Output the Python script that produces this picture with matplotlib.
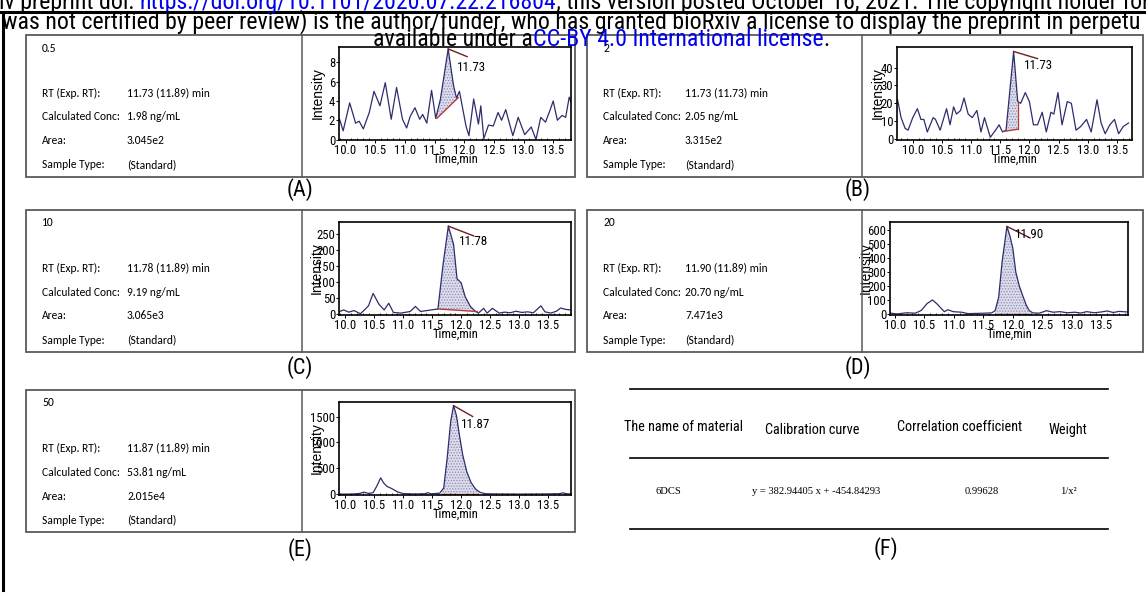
import numpy as np
import matplotlib
matplotlib.use('Agg')
import matplotlib.pyplot as plt
from matplotlib import font_manager as fm
from matplotlib.lines import Line2D
from matplotlib.patches import Rectangle
from matplotlib.ticker import FixedLocator, MultipleLocator, FormatStrFormatter

W, H = 1146, 603

# ---------------- data ----------------
sample_labels = ['0.5', '2', '10', '20', '50']
field_names = ['RT (Exp. RT):', 'Calculated Conc:', 'Area:', 'Sample Type:']
rt_values = ['11.73 (11.89) min', '11.73 (11.73) min', '11.78 (11.89) min',
             '11.90 (11.89) min', '11.87 (11.89) min']
conc_values = ['1.98 ng/mL', '2.05 ng/mL', '9.19 ng/mL', '20.70 ng/mL', '53.81 ng/mL']
area_values = ['3.045e2', '3.315e2', '3.065e3', '7.471e3', '2.015e4']
type_values = ['(Standard)'] * 5
peak_labels = ['11.73', '11.73', '11.78', '11.90', '11.87']
panel_letters = ['(A)', '(B)', '(C)', '(D)', '(E)', '(F)']
x_ticks = [10.0, 10.5, 11.0, 11.5, 12.0, 12.5, 13.0, 13.5]

a_time = [9.90, 9.96, 10.07, 10.17, 10.23, 10.30, 10.40, 10.48, 10.58, 10.67, 10.77, 10.86,
          10.96, 11.03, 11.09, 11.17, 11.25, 11.30, 11.37, 11.45, 11.52, 11.60, 11.73, 11.82,
          11.87, 11.92, 12.03, 12.08, 12.16, 12.24, 12.28, 12.33, 12.41, 12.49, 12.57, 12.63,
          12.70, 12.77, 12.82, 12.91, 13.02, 13.13, 13.21, 13.29, 13.37, 13.45, 13.50, 13.57,
          13.65, 13.71, 13.77, 13.80]
a_int = [2.1, 0.9, 3.8, 1.7, 1.9, 1.1, 2.8, 5.0, 3.5, 5.9, 2.1, 5.4,
         2.1, 1.2, 2.4, 3.3, 2.1, 2.6, 1.7, 5.1, 2.2, 4.2, 9.4, 5.6,
         4.3, 5.0, 1.4, 0.4, 4.2, 1.6, 3.5, 0.1, 1.5, 1.4, 2.8, 2.0,
         3.1, 1.5, 0.4, 2.3, 0.5, 1.3, 0.0, 2.3, 1.8, 3.1, 4.0, 2.0,
         2.5, 2.3, 4.4, 3.9]
a_base_t = [11.54, 11.90]
a_base_y = [2.2, 4.35]
a_yticks = [0, 2, 4, 6, 8]

b_time = [9.74, 9.80, 9.87, 9.92, 10.00, 10.08, 10.14, 10.19, 10.25, 10.35, 10.39, 10.47,
          10.58, 10.64, 10.70, 10.75, 10.82, 10.88, 10.95, 11.02, 11.10, 11.17, 11.23, 11.33,
          11.42, 11.48, 11.54, 11.60, 11.73, 11.80, 11.85, 11.93, 12.00, 12.07, 12.14, 12.22,
          12.29, 12.37, 12.42, 12.49, 12.56, 12.65, 12.72, 12.80, 12.88, 12.98, 13.06, 13.16,
          13.23, 13.30, 13.38, 13.46, 13.53, 13.61, 13.70]
b_int = [22, 12, 6, 5, 12, 17, 11, 11, 4, 12, 11, 5,
         17, 8, 18, 14, 16, 23, 14, 12, 16, 4, 12, 1,
         5, 8, 4, 5, 49, 21, 20, 26, 21, 8, 8, 15,
         4, 15, 14, 26, 8, 21, 20, 5, 7, 11, 4, 22,
         9, 3, 8, 11, 3, 7, 9]
b_base_t = [11.56, 11.80]
b_base_y = [4.3, 5.5]
b_yticks = [0, 10, 20, 30, 40]

c_time = [9.90, 9.97, 10.06, 10.15, 10.26, 10.33, 10.40, 10.48, 10.58, 10.67, 10.75, 10.83,
          10.96, 11.12, 11.21, 11.30, 11.48, 11.60, 11.69, 11.78, 11.87, 11.93, 12.00, 12.07,
          12.16, 12.25, 12.30, 12.39, 12.45, 12.54, 12.66, 12.75, 12.85, 12.95, 13.05, 13.15,
          13.25, 13.38, 13.45, 13.55, 13.65, 13.72, 13.80, 13.88]
c_int = [7, 12, 5, 10, 0, 12, 25, 64, 30, 12, 33, 4,
         2, 7, 23, 7, 12, 15, 157, 276, 219, 110, 98, 54,
         23, 7, 2, 17, 2, 17, 2, 5, 3, 8, 4, 6,
         3, 25, 6, 2, 8, 18, 14, 12]
c_base_t = [11.60, 12.28]
c_base_y = [15, 7]
c_yticks = [0, 50, 100, 150, 200, 250]

d_time = [9.92, 9.97, 10.05, 10.20, 10.35, 10.45, 10.55, 10.64, 10.72, 10.77, 10.84, 10.90,
          10.99, 11.13, 11.24, 11.45, 11.64, 11.70, 11.76, 11.82, 11.90, 11.95, 12.00, 12.05,
          12.11, 12.17, 12.23, 12.28, 12.34, 12.45, 12.57, 12.68, 12.80, 12.92, 13.05, 13.15,
          13.25, 13.38, 13.50, 13.60, 13.70, 13.80, 13.93]
d_int = [7, 3, 0, 8, 5, 25, 75, 100, 70, 47, 16, 30,
         16, 12, 2, 4, 7, 23, 120, 380, 628, 560, 470, 300,
         200, 128, 60, 23, 7, 5, 23, 12, 16, 8, 12, 6,
         16, 8, 14, 21, 10, 18, 14]
d_base_t = [11.70, 12.30]
d_base_y = [2, 2]
d_yticks = [0, 100, 200, 300, 400, 500, 600]

e_time = [9.90, 10.10, 10.25, 10.32, 10.40, 10.48, 10.54, 10.61, 10.66, 10.72, 10.80, 10.90,
          11.00, 11.20, 11.38, 11.42, 11.48, 11.63, 11.70, 11.76, 11.82, 11.87, 11.92, 11.97,
          12.03, 12.10, 12.17, 12.25, 12.33, 12.42, 12.60, 13.00, 13.40, 13.70, 13.76, 13.82,
          13.90]
e_int = [2, 3, 15, 40, 15, 30, 150, 315, 220, 150, 110, 45,
         12, 5, 10, 30, 8, 20, 120, 700, 1400, 1710, 1520, 1150,
         750, 430, 230, 100, 35, 10, 5, 3, 5, 10, 25, 10,
         5]
e_base_t = [11.66, 12.30]
e_base_y = [10, 10]
e_yticks = [0, 500, 1000, 1500]

table_headers = ['The name of material', 'Calibration curve', 'Correlation coefficient', 'Weight']
table_row = ['6DCS', 'y = 382.94405 x + -454.84293', '0.99628', '1/x\u00b2']

header_line1 = [('iv preprint doi: ', 'black'),
                ('https://doi.org/10.1101/2020.07.22.216804', '#0000ee'),
                ('; this version posted October 16, 2021. The copyright holder for', 'black')]
header_line2 = ('was not certified by peer review) is the author/funder, who has granted bioRxiv '
                'a license to display the preprint in perpetu')
header_line3 = [('available under a', 'black'),
                ('CC-BY 4.0 International license', '#0000ee'),
                ('.', 'black')]

# ---------------- fonts ----------------
def find_family(cands, must=None):
    for name in cands:
        try:
            path = fm.findfont(fm.FontProperties(family=name), fallback_to_default=False)
        except Exception:
            continue
        if must is None or any(m.lower() in path.lower() for m in must):
            return name
    return None

SANS = 'Liberation Sans'
SERIF = 'Liberation Serif'
NARROW = find_family(['Liberation Sans Narrow', 'Arial Narrow', 'Nimbus Sans Narrow',
                      'Roboto Condensed', 'Open Sans Condensed'],
                     must=['narrow', 'condensed']) or SANS
BODY = find_family(['Carlito', 'Calibri', 'Lato']) or 'DejaVu Sans'

plt.rcParams['hatch.linewidth'] = 0.6

fig = plt.figure(figsize=(W / 100, H / 100), dpi=100)
fig.patch.set_facecolor('white')
renderer = fig.canvas.get_renderer()


def fx(x):
    return x / W


def fy(y):
    return 1 - y / H


def fline(x0, y0, x1, y1, **kw):
    fig.add_artist(Line2D([fx(x0), fx(x1)], [fy(y0), fy(y1)], transform=fig.transFigure, **kw))


def ftext(x, y, s, **kw):
    return fig.text(fx(x), fy(y), s, **kw)


def text_width(s, size, family):
    t = fig.text(0, 0, s, fontsize=size, family=family)
    w = t.get_window_extent(renderer).width
    t.remove()
    return w


# scale so that a narrow font (if present) keeps the same widths as Liberation Sans sizes
NS = text_width('The name of material 10.0', 10, SANS) / text_width('The name of material 10.0', 10, NARROW)


def chain(x0, y, segs, size, family):
    prefix = ''
    ref = text_width('x', size, family)
    for s, c in segs:
        x = x0 if not prefix else x0 + text_width(prefix + 'x', size, family) - ref
        ftext(x, y, s, color=c, fontsize=size, family=family, ha='left', va='center')
        prefix += s


# ---------------- header (preprint watermark) ----------------
hdr_size = 14 * 1146 / text_width(header_line2, 14, NARROW)
chain(-1, 2, header_line1, hdr_size, NARROW)
ftext(2, 22, header_line2, color='black', fontsize=hdr_size, family=NARROW, ha='left', va='center')
chain(373, 39, header_line3, hdr_size, NARROW)
fline(0, 12, W, 12, color='black', lw=2.2)
fline(3, 12, 3, 590, color='black', lw=2.2)

# ---------------- panels ----------------
box_tops = [35, 35, 210, 210, 390]
box_h = 142
boxes = [(26, 575, 302), (587, 1143, 862), (26, 575, 302), (587, 1143, 862), (26, 575, 302)]
row_off = [13, 58, 82, 106, 130]
axes_lr = [(339, 571), (897, 1132), (339, 571), (890, 1128), (339, 571)]
ax_top_off, ax_bot_off = 12, 105
ylab_x = [318, 878, 317, 866, 317]
xlab_off = 124
letter_pos = [(300, 190), (858, 190), (300, 368), (858, 368), (300, 550)]

times = [a_time, b_time, c_time, d_time, e_time]
ints = [a_int, b_int, c_int, d_int, e_int]
base_ts = [a_base_t, b_base_t, c_base_t, d_base_t, e_base_t]
base_ys = [a_base_y, b_base_y, c_base_y, d_base_y, e_base_y]
yticks_all = [a_yticks, b_yticks, c_yticks, d_yticks, e_yticks]
xlims = [(9.89, 13.80), (9.73, 13.76), (9.89, 13.90), (9.92, 13.95), (9.89, 13.90)]
ylims = [(-0.05, 9.6), (-0.5, 51.5), (-4, 289), (-8, 660), (-15, 1780)]
lbl_line_end = [(12.05, 8.6), (12.14, 45), (12.22, 245), (12.29, 546), (12.20, 1500)]
lbl_text_pos = [(11.88, 7.5), (11.90, 41), (11.96, 229), (12.03, 570), (12.00, 1355)]
right_edge = [False, True, False, False, False]

trace_col = '#2d2d6e'
base_col = '#b53a3a'
lbl_col = '#6e1f1f'
tick_size = 8.0 * NS
body_size = 8.3

for i in range(5):
    x0, x1, xd = boxes[i]
    y0 = box_tops[i]
    y1 = y0 + box_h
    fig.add_artist(Rectangle((fx(x0), fy(y1)), fx(x1) - fx(x0), fy(y0) - fy(y1),
                             transform=fig.transFigure, fill=False, ec='#5a5a5a', lw=1.3))
    fline(xd, y0, xd, y1, color='#5a5a5a', lw=1.1)

    # sample info text
    tx = x0 + 16
    vx = x0 + 101 if i % 2 == 0 else x0 + 98
    rows = [y0 + o for o in row_off]
    ftext(tx, rows[0], sample_labels[i], fontsize=body_size, family=BODY, va='center', ha='left')
    vals = [rt_values[i], conc_values[i], area_values[i], type_values[i]]
    for k in range(4):
        ftext(tx, rows[k + 1], field_names[k], fontsize=body_size, family=BODY, va='center', ha='left')
        ftext(vx, rows[k + 1], vals[k], fontsize=body_size, family=BODY, va='center', ha='left')

    # chromatogram
    l, r = axes_lr[i]
    t_, b = y0 + ax_top_off, y0 + ax_bot_off
    ax = fig.add_axes([fx(l), fy(b), fx(r) - fx(l), fy(t_) - fy(b)])
    t = np.asarray(times[i], float)
    y = np.asarray(ints[i], float)
    bt = base_ts[i]
    by = base_ys[i]
    m = (t > bt[0]) & (t < bt[1])
    tt = np.concatenate([[bt[0]], t[m], [bt[1]]])
    yy = np.interp(tt, t, y)
    bb = np.interp(tt, bt, by)
    ax.fill_between(tt, bb, yy, facecolor='#dcdcec', edgecolor='#8c8cb4', hatch='......', lw=0)
    ax.plot(t, y, color=trace_col, lw=0.9)
    ax.plot(bt, by, color=base_col, lw=1.0)
    if right_edge[i]:
        ax.plot([bt[1], bt[1]], [by[1], np.interp(bt[1], t, y)], color=base_col, lw=0.9)
    pk = float(peak_labels[i])
    pky = float(np.interp(pk, t, y))
    ax.plot([pk, lbl_line_end[i][0]], [pky, lbl_line_end[i][1]], color=lbl_col, lw=1.0)
    ax.text(lbl_text_pos[i][0], lbl_text_pos[i][1], peak_labels[i], fontsize=8.2 * NS,
            family=NARROW, ha='left', va='center')

    ax.set_xlim(*xlims[i])
    ax.set_ylim(*ylims[i])
    ax.xaxis.set_major_locator(FixedLocator(x_ticks))
    ax.xaxis.set_major_formatter(FormatStrFormatter('%.1f'))
    ax.xaxis.set_minor_locator(MultipleLocator(0.1))
    ax.yaxis.set_major_locator(FixedLocator(yticks_all[i]))
    ax.tick_params(axis='both', which='major', direction='out', length=2, width=0.7,
                   labelsize=tick_size, pad=0.8)
    ax.tick_params(axis='x', which='minor', direction='in', length=1.5, width=0.6)
    for lab in ax.get_xticklabels() + ax.get_yticklabels():
        lab.set_family(NARROW)
    for sp in ax.spines.values():
        sp.set_linewidth(1.2)
        sp.set_color('black')
    ax.text((ylab_x[i] - l) / (r - l), 0.5, 'Intensity', rotation=90, transform=ax.transAxes,
            ha='center', va='center', fontsize=10, family=SANS)
    ax.text(0.5, (b - (y0 + xlab_off)) / (b - t_), 'Time,min', transform=ax.transAxes,
            ha='center', va='center', fontsize=tick_size, family=NARROW)

    lx, ly = letter_pos[i]
    ftext(lx, ly, panel_letters[i], fontsize=14 * NS, family=NARROW, ha='center', va='center')

# ---------------- panel F table ----------------
for yl in (389, 458, 529):
    fline(630, yl, 1108, yl, color='black', lw=1.2)
hdr_x = [684, 812, 960, 1068]
hdr_y = [427, 430, 427, 430]
row_x = [668, 816, 982, 1068]
for k in range(4):
    ftext(hdr_x[k], hdr_y[k], table_headers[k], fontsize=9 * NS, family=NARROW,
          ha='center', va='center')
    ftext(row_x[k], 491, table_row[k], fontsize=7.6, family=SERIF, ha='center', va='center')
ftext(886, 549, panel_letters[5], fontsize=14 * NS, family=NARROW, ha='center', va='center')

fig.savefig('out.png', dpi=100)
